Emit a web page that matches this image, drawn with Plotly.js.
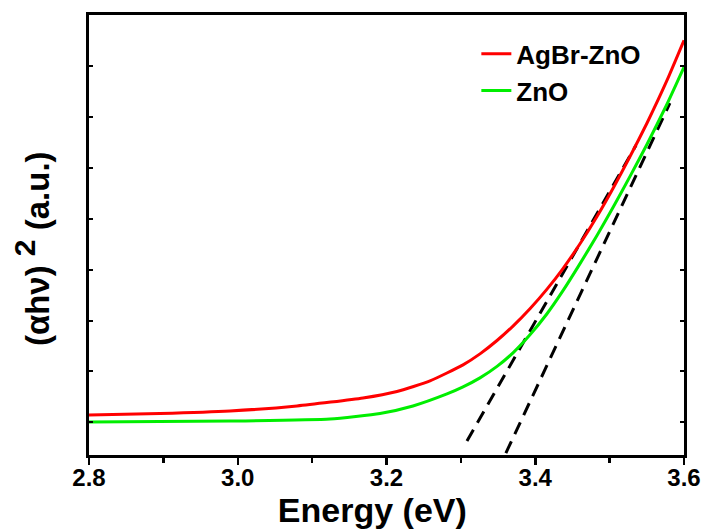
<!DOCTYPE html>
<html>
<head>
<meta charset="utf-8">
<script src="https://cdn.plot.ly/plotly-3.0.1.min.js"></script>
<style>html,body{margin:0;padding:0;background:#fff;}#chart{width:707px;height:531px;}</style>
</head>
<body>
<div id="chart"></div>
<script>
// Energy (eV) and (αhν)^2 in arbitrary units
const agbrEnergy = [2.80, 2.8955, 2.9896, 3.0797, 3.1684, 3.2141, 3.2585, 3.3029, 3.3257, 3.3486, 3.3701, 3.3929, 3.4158, 3.4373, 3.4602, 3.4830, 3.5045, 3.5274, 3.5503, 3.5771, 3.60];
const agbrValue  = [1.146, 1.175, 1.224, 1.323, 1.480, 1.608, 1.815, 2.130, 2.346, 2.608, 2.892, 3.232, 3.618, 4.022, 4.508, 5.043, 5.594, 6.220, 6.880, 7.715, 8.502];
const znoEnergy  = [2.80, 2.9896, 3.1240, 3.1913, 3.2356, 3.2813, 3.3029, 3.3257, 3.3486, 3.3701, 3.3929, 3.4158, 3.4373, 3.4602, 3.4830, 3.5045, 3.5274, 3.5503, 3.5771, 3.60];
const znoValue   = [1.008, 1.028, 1.067, 1.175, 1.323, 1.559, 1.697, 1.874, 2.100, 2.366, 2.720, 3.134, 3.587, 4.118, 4.669, 5.220, 5.831, 6.461, 7.248, 7.976];
// Tangent (Tauc) extrapolation lines
const agbrFitEnergy = [3.3082, 3.5355];
const agbrFitValue  = [0.634, 6.441];
const znoFitEnergy  = [3.3605, 3.581];
const znoFitValue   = [0.398, 7.268];
const seriesNames = ['AgBr-ZnO', 'ZnO'];
const xTickVals = [2.8, 3.0, 3.2, 3.4, 3.6];
const xTickText = ['2.8', '3.0', '3.2', '3.4', '3.6'];

const FONT = 'Liberation Sans, Arial, sans-serif';
const PAD = '<span>\u00A0\u00A0\u00A0</span>';

const traces = [
  {x: agbrFitEnergy, y: agbrFitValue, mode: 'lines', showlegend: false, hoverinfo: 'skip',
   line: {color: '#000', width: 3, dash: '13px,8px'}},
  {x: znoFitEnergy, y: znoFitValue, mode: 'lines', showlegend: false, hoverinfo: 'skip',
   line: {color: '#000', width: 3, dash: '13px,8px'}},
  {x: agbrEnergy, y: agbrValue, mode: 'lines', name: seriesNames[0],
   line: {color: '#ff0000', width: 3, shape: 'spline', smoothing: 0.5}},
  {x: znoEnergy, y: znoValue, mode: 'lines', name: seriesNames[1],
   line: {color: '#00ee00', width: 3, shape: 'spline', smoothing: 0.5}}
];

const layout = {
  width: 707, height: 531,
  paper_bgcolor: '#fff', plot_bgcolor: '#fff',
  margin: {l: 89, r: 23, t: 15, b: 76},
  font: {family: FONT, color: '#000'},
  showlegend: true,
  legend: {x: 0.651, y: 0.965, xanchor: 'left', yanchor: 'top', bgcolor: 'rgba(0,0,0,0)',
           font: {family: FONT, size: 26, color: '#000', weight: 'bold'}, tracegroupgap: 0},
  xaxis: {
    range: [2.8, 3.6], showgrid: false, zeroline: false,
    showline: true, linecolor: '#000', linewidth: 3, mirror: true,
    ticks: 'outside', ticklen: 7, tickwidth: 2.5, tickcolor: '#000',
    tickvals: xTickVals, ticktext: xTickText, ticklabelstandoff: -8,
    minor: {dtick: 0.1, tick0: 2.8, ticks: 'outside', ticklen: 5, tickwidth: 2.5, tickcolor: '#000', showgrid: false},
    tickfont: {family: FONT, size: 24, color: '#000', weight: 'bold'},
    title: {text: 'Energy (eV)' + PAD, standoff: 0, font: {family: FONT, size: 34, color: '#000', weight: 'bold'}}
  },
  yaxis: {
    range: [0.36, 9], showgrid: false, zeroline: false,
    showline: true, linecolor: '#000', linewidth: 3, mirror: 'ticks',
    ticks: 'inside', ticklen: 4, tickwidth: 2, tickcolor: '#000',
    dtick: 1, tick0: 0, showticklabels: false,
    title: {text: '(αhν) <sup><span style="font-size:30px">2</span></sup> (a.u.)' + PAD, standoff: 27,
            font: {family: FONT, size: 33, color: '#000', weight: 'bold'}}
  }
};

Plotly.newPlot('chart', traces, layout, {displayModeBar: false, staticPlot: true});
</script>
</body>
</html>
